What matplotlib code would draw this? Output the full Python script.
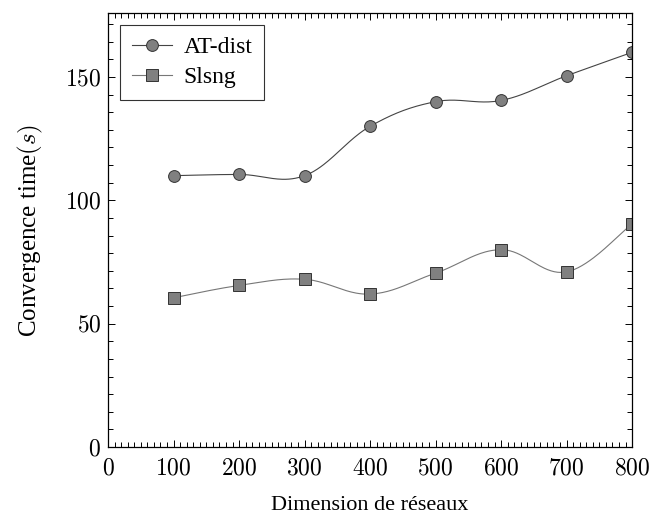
import numpy as np
import matplotlib
matplotlib.use("Agg")
import matplotlib.pyplot as plt
from matplotlib.ticker import MultipleLocator, FuncFormatter

x = [100, 200, 300, 400, 500, 600, 700, 800]
at_dist = [110, 110.5, 110, 130, 140, 140.5, 150.5, 160]
slsng = [60.5, 65.5, 68, 62, 70.5, 80, 71, 90.5]

plt.rcParams['font.family'] = ['Liberation Serif', 'DejaVu Serif']
plt.rcParams['mathtext.fontset'] = 'cm'


def smooth(xs, ys, tension=0.55, n=40):
    # courbe lisse type pgfplots (spline cardinale) passant par les points
    xs = np.asarray(xs, float)
    ys = np.asarray(ys, float)
    px, py = [], []
    for i in range(len(xs) - 1):
        p0 = (xs[max(i - 1, 0)], ys[max(i - 1, 0)])
        p1 = (xs[i], ys[i])
        p2 = (xs[i + 1], ys[i + 1])
        p3 = (xs[min(i + 2, len(xs) - 1)], ys[min(i + 2, len(xs) - 1)])
        k = tension / 3.0 * 2
        c1 = (p1[0] + k * (p2[0] - p0[0]) / 2, p1[1] + k * (p2[1] - p0[1]) / 2)
        c2 = (p2[0] - k * (p3[0] - p1[0]) / 2, p2[1] - k * (p3[1] - p1[1]) / 2)
        t = np.linspace(0, 1, n)
        bx = (1 - t) ** 3 * p1[0] + 3 * (1 - t) ** 2 * t * c1[0] + 3 * (1 - t) * t ** 2 * c2[0] + t ** 3 * p2[0]
        by = (1 - t) ** 3 * p1[1] + 3 * (1 - t) ** 2 * t * c1[1] + 3 * (1 - t) * t ** 2 * c2[1] + t ** 3 * p2[1]
        px.extend(bx)
        py.extend(by)
    return px, py


fig = plt.figure(figsize=(6.55, 5.15), dpi=100)
ax = fig.add_axes([0.165, 0.132, 0.8, 0.843])

sx, sy = smooth(x, at_dist)
ax.plot(sx, sy, color='#444444', lw=0.8)
sx, sy = smooth(x, slsng)
ax.plot(sx, sy, color='#777777', lw=0.8)
ax.plot(x, at_dist, ls='none', marker='o', ms=8.5, mfc='#808080', mec='#333333', mew=0.7)
ax.plot(x, slsng, ls='none', marker='s', ms=8, mfc='#808080', mec='#333333', mew=0.7)

# entrées de légende
h1, = ax.plot([], [], color='#444444', lw=0.8, marker='o', ms=8.5, mfc='#808080', mec='#333333', mew=0.7)
h2, = ax.plot([], [], color='#777777', lw=0.8, marker='s', ms=8, mfc='#808080', mec='#333333', mew=0.7)
leg = ax.legend([h1, h2], ['AT-dist', 'Slsng'], loc='upper left', fontsize=17,
                frameon=True, fancybox=False, edgecolor='black', handlelength=1.7,
                borderaxespad=0.5, borderpad=0.5, labelspacing=0.35, handletextpad=0.5)
leg.get_frame().set_linewidth(0.8)

ax.set_xlim(0, 800)
ax.set_ylim(0, 176)
ax.xaxis.set_major_locator(MultipleLocator(100))
ax.xaxis.set_minor_locator(MultipleLocator(10))
ax.yaxis.set_major_locator(MultipleLocator(50))
ax.yaxis.set_minor_locator(MultipleLocator(50 / 7))
fmt = FuncFormatter(lambda v, p: r'$%d$' % v)
ax.xaxis.set_major_formatter(fmt)
ax.yaxis.set_major_formatter(fmt)
ax.tick_params(which='both', direction='in', top=True, right=True, labelsize=17, width=0.7)
ax.tick_params(which='major', length=5)
ax.tick_params(axis='x', which='major', pad=8)
ax.tick_params(axis='y', which='major', pad=5)
ax.tick_params(which='minor', length=3.5)
for s in ax.spines.values():
    s.set_linewidth(0.9)

ax.set_xlabel('Dimension de réseaux', fontsize=16, labelpad=12)
ax.set_ylabel(r'Convergence time$(s)$', fontsize=18, labelpad=14)

fig.savefig('out.png', dpi=100)
